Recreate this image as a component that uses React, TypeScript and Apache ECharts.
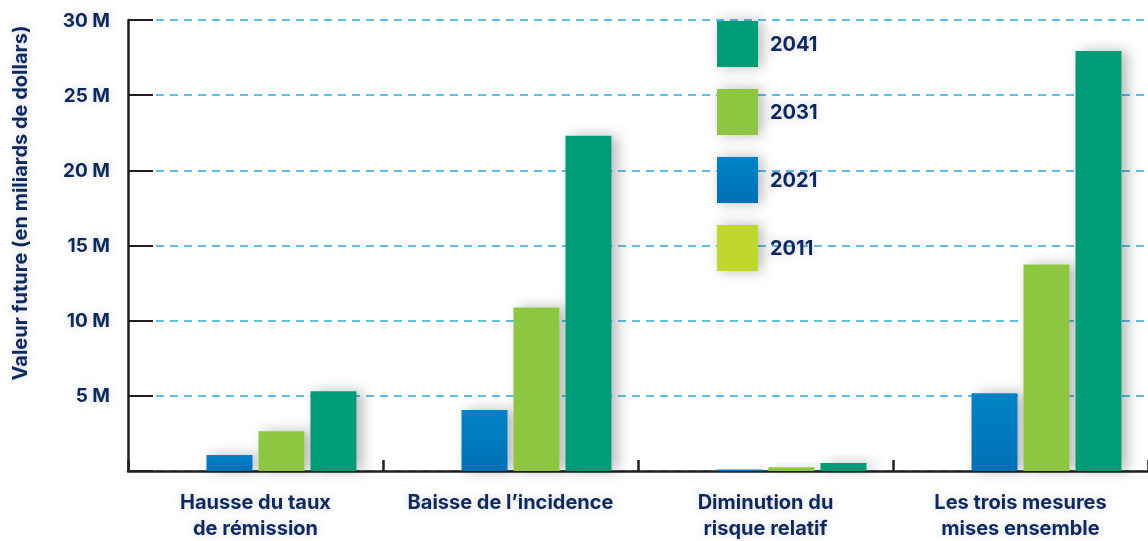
import React, { useEffect, useRef } from "react";
import * as echarts from "echarts";

const categories = [
  "Hausse du taux\nde rémission",
  "Baisse de l’incidence",
  "Diminution du\nrisque relatif",
  "Les trois mesures\nmises ensemble",
];
const years = ["2011", "2021", "2031", "2041"];
const values2011 = [0, 0, 0, 0];
const values2021 = [1.06, 4.05, 0.1, 5.18];
const values2031 = [2.65, 10.88, 0.25, 13.74];
const values2041 = [5.31, 22.3, 0.53, 27.94];
const legendOrder = ["2041", "2031", "2021", "2011"];
const yAxisTitle = "Valeur future (en miliards de dollars)";

const NAVY = "#10295e";
const FONT = "Inter";

export default function App() {
  const ref = useRef<HTMLDivElement>(null);
  useEffect(() => {
    if (!ref.current) return;
    const chart = echarts.init(ref.current, undefined, { renderer: "svg" });
    const shadow = {
      shadowColor: "rgba(0,0,0,0.28)",
      shadowBlur: 14,
      shadowOffsetX: 6,
      shadowOffsetY: 0,
    };
    const colors: Record<string, any> = {
      "2011": "#C1D72E",
      "2021": new echarts.graphic.LinearGradient(0, 0, 0, 1, [
        { offset: 0, color: "#0082C8" },
        { offset: 1, color: "#0070B4" },
      ]),
      "2031": "#8DC63F",
      "2041": "#009B77",
    };
    const dataMap: Record<string, number[]> = {
      "2011": values2011,
      "2021": values2021,
      "2031": values2031,
      "2041": values2041,
    };
    const textShadow = {
      textShadowColor: "rgba(0,0,0,0.18)",
      textShadowBlur: 8,
    };
    chart.setOption({
      animation: false,
      grid: { left: 128, right: 0, top: 20, bottom: 66, containLabel: false },
      legend: {
        orient: "vertical",
        left: 717,
        top: 21,
        padding: 0,
        itemWidth: 41,
        itemHeight: 46,
        itemGap: 22,
        icon: "rect",
        data: legendOrder,
        itemStyle: { ...shadow, shadowOffsetX: 4 },
        textStyle: {
          color: NAVY,
          fontFamily: FONT,
          fontWeight: 700,
          fontSize: 20,
          padding: [0, 0, 0, 7],
          ...textShadow,
        },
        selectedMode: false,
      },
      graphic: [
        {
          type: "text",
          x: 20,
          y: 203,
          rotation: Math.PI / 2,
          style: {
            text: yAxisTitle,
            fill: NAVY,
            font: `700 20px ${FONT}`,
            align: "center",
            verticalAlign: "middle",
            ...textShadow,
          },
        },
      ],
      xAxis: {
        type: "category",
        data: categories,
        boundaryGap: true,
        axisLine: { lineStyle: { color: "#231F20", width: 2.5 } },
        axisTick: { show: true, inside: true, length: 11, lineStyle: { color: "#231F20", width: 2.5 } },
        axisLabel: {
          color: NAVY,
          fontFamily: FONT,
          fontWeight: 700,
          fontSize: 20,
          lineHeight: 26,
          margin: 18,
          interval: 0,
          ...textShadow,
        },
      },
      yAxis: {
        type: "value",
        min: 0,
        max: 30,
        interval: 5,
        axisLine: { show: true, lineStyle: { color: "#231F20", width: 2.5 } },
        axisTick: { show: true, inside: true, length: 25, lineStyle: { color: "#231F20", width: 2 } },
        splitLine: { show: true, lineStyle: { color: "#29A9E0", width: 1.5, type: [8, 6] } },
        axisLabel: {
          color: NAVY,
          fontFamily: FONT,
          fontWeight: 700,
          fontSize: 19,
          margin: 18,
          formatter: (v: number) => (v === 0 ? "" : `${v} M`),
          ...textShadow,
        },
      },
      series: years.map((y) => ({
        name: y,
        type: "bar",
        data: dataMap[y],
        barWidth: 46,
        barGap: "13%",
        itemStyle: { color: colors[y], ...shadow },
      })),
    });
    return () => chart.dispose();
  }, []);
  return (
    <div
      ref={ref}
      style={{ position: "fixed", left: 0, top: 0, width: 1148, height: 541, background: "#fff" }}
    />
  );
}
